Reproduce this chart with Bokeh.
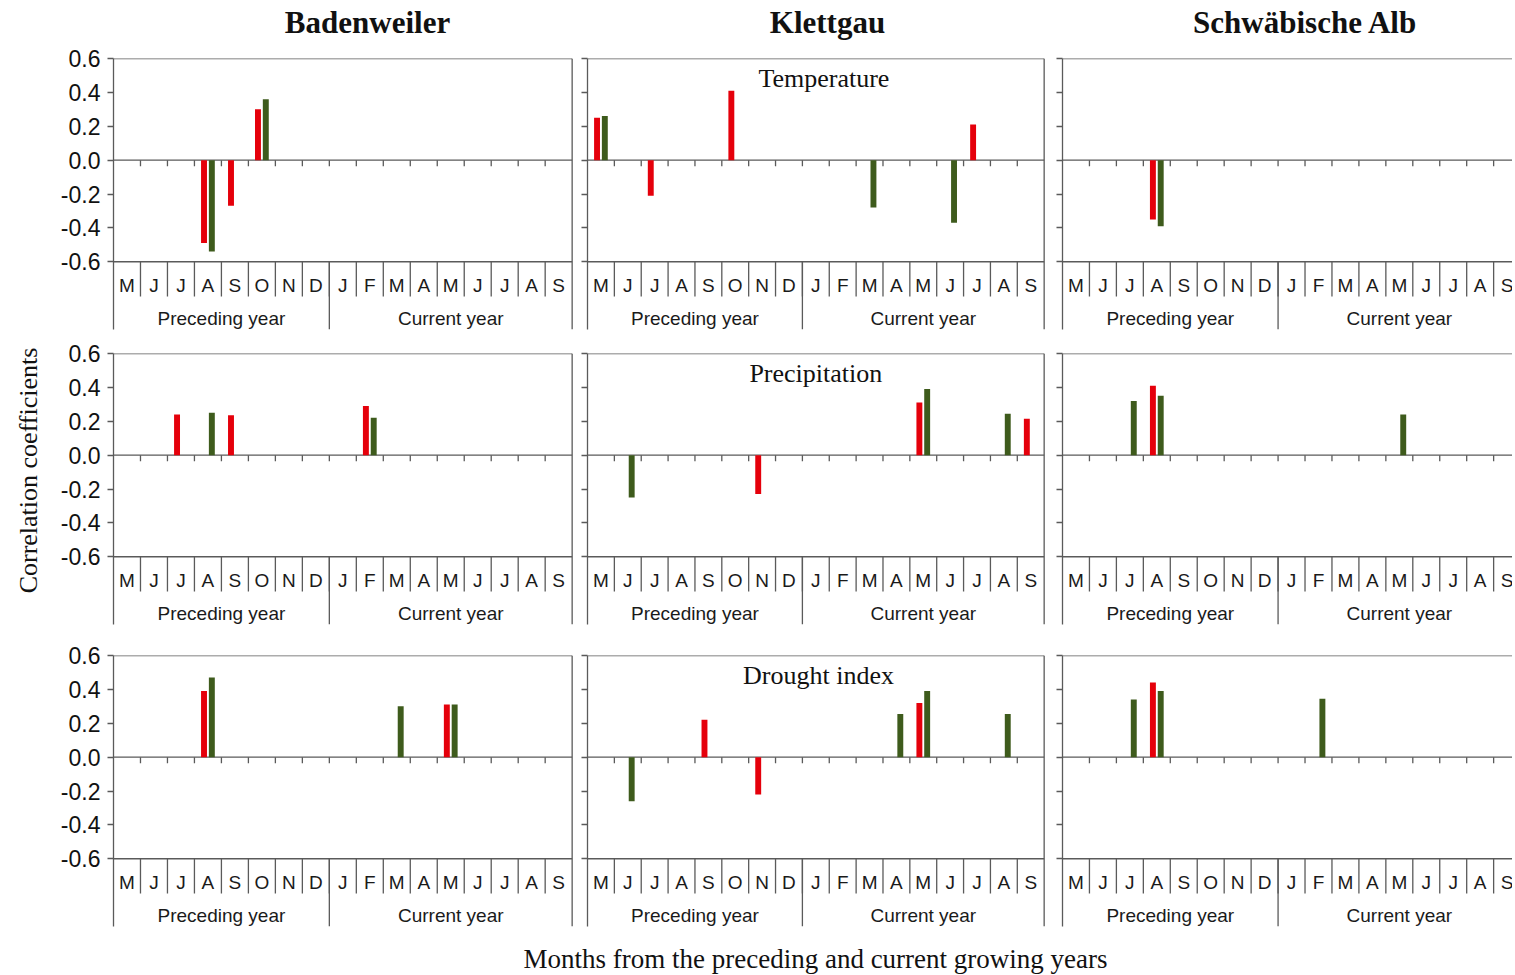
import numpy as np
from bokeh.plotting import figure
from bokeh.models import Range1d, FixedTicker, ColumnDataSource, NumeralTickFormatter, CustomJSTickFormatter
from bokeh.transform import dodge
from bokeh.layouts import gridplot, column, row
from bokeh.core.properties import value
from bokeh.embed import file_html
from bokeh.resources import INLINE

# ---------------- data ----------------
months = ["M", "J", "J", "A", "S", "O", "N", "D", "J", "F", "M", "A", "M", "J", "J", "A", "S"]
year_labels = ["Preceding year", "Current year"]
sites = ["Badenweiler", "Klettgau", "Schwäbische Alb"]
variables = ["Temperature", "Precipitation", "Drought index"]
y_title = "Correlation coefficients"
x_title = "Months from the preceding and current growing years"
N = None

# Temperature
temp_bad_red   = [N, N, N, -0.49, -0.27, 0.30, N, N, N, N, N, N, N, N, N, N, N]
temp_bad_green = [N, N, N, -0.54, N, 0.36, N, N, N, N, N, N, N, N, N, N, N]
temp_kle_red   = [0.25, N, -0.21, N, N, 0.41, N, N, N, N, N, N, N, N, 0.21, N, N]
temp_kle_green = [0.26, N, N, N, N, N, N, N, N, N, -0.28, N, N, -0.37, N, N, N]
temp_alb_red   = [N, N, N, -0.35, N, N, N, N, N, N, N, N, N, N, N, N, N]
temp_alb_green = [N, N, N, -0.39, N, N, N, N, N, N, N, N, N, N, N, N, N]

# Precipitation
prec_bad_red   = [N, N, 0.24, N, 0.235, N, N, N, N, 0.29, N, N, N, N, N, N, N]
prec_bad_green = [N, N, N, 0.25, N, N, N, N, N, 0.22, N, N, N, N, N, N, N]
prec_kle_red   = [N, N, N, N, N, N, -0.23, N, N, N, N, N, 0.31, N, N, N, 0.215]
prec_kle_green = [N, -0.25, N, N, N, N, N, N, N, N, N, N, 0.39, N, N, 0.245, N]
prec_alb_red   = [N, N, N, 0.41, N, N, N, N, N, N, N, N, N, N, N, N, N]
prec_alb_green = [N, N, 0.32, 0.35, N, N, N, N, N, N, N, N, 0.24, N, N, N, N]

# Drought index
drou_bad_red   = [N, N, N, 0.39, N, N, N, N, N, N, N, N, 0.31, N, N, N, N]
drou_bad_green = [N, N, N, 0.47, N, N, N, N, N, N, 0.30, N, 0.31, N, N, N, N]
drou_kle_red   = [N, N, N, N, 0.22, N, -0.22, N, N, N, N, N, 0.32, N, N, N, N]
drou_kle_green = [N, -0.26, N, N, N, N, N, N, N, N, N, 0.255, 0.39, N, N, 0.255, N]
drou_alb_red   = [N, N, N, 0.44, N, N, N, N, N, N, N, N, N, N, N, N, N]
drou_alb_green = [N, N, 0.34, 0.39, N, N, N, N, N, 0.345, N, N, N, N, N, N, N]

series = [
    [(temp_bad_red, temp_bad_green), (temp_kle_red, temp_kle_green), (temp_alb_red, temp_alb_green)],
    [(prec_bad_red, prec_bad_green), (prec_kle_red, prec_kle_green), (prec_alb_red, prec_alb_green)],
    [(drou_bad_red, drou_bad_green), (drou_kle_red, drou_kle_green), (drou_alb_red, drou_alb_green)],
]

# ---------------- style / layout ----------------
RED = "#E5000B"
GREEN = "#3E5B1C"
LINE = "#5a5a5a"
TXT = "#111111"
SANS = "Liberation Sans"
SERIF = "Liberation Serif"

TOTAL_W = 1512
HEADER_H = 46
YT_W = 45
XT_H = 42

col_frame_w = [460, 458, 450]
col_border_l = [68, 9, 13]
col_border_r = [5, 4, 0]
col_xend = [17.05, 17.05, 16.7]
row_border_t = [12, 12, 16]
row_border_b = [12, 15, 6]
FRAME_H = 271
title_x = [8.8, 8.5, 8.6]

yticks = [-0.6, -0.4, -0.2, 0.0, 0.2, 0.4, 0.6]
n = len(months)
xc = np.arange(n) + 0.5


def arr(lst):
    return np.array([np.nan if v is None else v for v in lst], dtype=float)


def text_canvas(w, h):
    f = figure(width=w, height=h, x_range=Range1d(0, w), y_range=Range1d(h, 0),
               x_axis_location=None, y_axis_location=None, toolbar_location=None,
               output_backend="svg", min_border=0)
    f.outline_line_color = None
    f.xgrid.visible = False
    f.ygrid.visible = False
    return f


grid = []
for r in range(3):
    prow = []
    for c in range(3):
        xend = col_xend[c]
        p = figure(frame_width=col_frame_w[c], frame_height=FRAME_H,
                   x_range=Range1d(0, xend), y_range=Range1d(-1.0, 0.6),
                   x_axis_location=None, y_axis_location="left",
                   toolbar_location=None, output_backend="svg",
                   min_border_left=col_border_l[c], min_border_right=col_border_r[c],
                   min_border_top=row_border_t[r], min_border_bottom=row_border_b[r])
        p.outline_line_color = None
        p.xgrid.visible = False
        p.ygrid.visible = False

        ax = p.yaxis[0]
        ax.ticker = FixedTicker(ticks=yticks, minor_ticks=[])
        ax.axis_line_color = LINE
        ax.axis_line_width = 1.3
        ax.major_tick_line_color = LINE
        ax.major_tick_line_width = 1.3
        ax.major_tick_out = 6
        ax.major_tick_in = 0
        ax.minor_tick_line_color = None
        if c == 0:
            ax.formatter = NumeralTickFormatter(format="0.0")
            ax.major_label_text_font = SANS
            ax.major_label_text_font_size = "23px"
            ax.major_label_text_color = TXT
            ax.major_label_standoff = 7
        else:
            ax.formatter = CustomJSTickFormatter(code="return ''")
            ax.major_label_standoff = 0

        xright = 17 if c < 2 else xend
        p.segment(x0=[0, 0, 0], y0=[0.6, 0.0, -0.6], x1=[xright] * 3, y1=[0.6, 0.0, -0.6],
                  line_color=LINE, line_width=1.3)
        bx = list(range(1, n))
        p.segment(x0=bx, y0=[0] * len(bx), x1=bx, y1=[-0.036] * len(bx),
                  line_color=LINE, line_width=1.3)
        p.segment(x0=bx, y0=[-0.6] * len(bx), x1=bx, y1=[-0.805] * len(bx),
                  line_color=LINE, line_width=1.3)
        p.segment(x0=[8], y0=[-0.6], x1=[8], y1=[-1.0], line_color=LINE, line_width=1.3)
        if c < 2:
            p.segment(x0=[17], y0=[0.6], x1=[17], y1=[-1.0], line_color=LINE, line_width=1.3)

        red, green = series[r][c]
        src = ColumnDataSource(dict(x=xc, red=arr(red), green=arr(green)))
        p.vbar(x=dodge("x", -0.145, range=None), top="red", bottom=0, width=0.22,
               source=src, fill_color=RED, line_color=None)
        p.vbar(x=dodge("x", 0.145, range=None), top="green", bottom=0, width=0.22,
               source=src, fill_color=GREEN, line_color=None)

        p.text(x=xc, y=[-0.742] * n, text=months, text_font=value(SANS), text_font_size="19px",
               text_align="center", text_baseline="middle", text_color="#1a1a1a")
        p.text(x=[4.0, 12.5], y=[-0.935, -0.935], text=year_labels, text_font=value(SANS),
               text_font_size="19px", text_align="center", text_baseline="middle",
               text_color="#1a1a1a")

        if c == 1:
            p.text(x=[title_x[r]], y=[0.48], text=[variables[r]], text_font=value(SERIF),
                   text_font_size="26px", text_align="center", text_baseline="middle",
                   text_color=TXT)
        prow.append(p)
    grid.append(prow)

gp = gridplot(grid, toolbar_location=None)
grid_h = sum(row_border_t) + sum(row_border_b) + 3 * FRAME_H

# column headers
header = text_canvas(TOTAL_W, HEADER_H)
header.text(x=[367, 827, 1305], y=[22, 22, 22], text=sites, text_font=value(SERIF),
            text_font_style="bold", text_font_size="31px", text_align="center",
            text_baseline="middle", text_color=TXT)

# y-axis title
ytf = text_canvas(YT_W, grid_h)
ytf.text(x=[28], y=[470 - HEADER_H], text=[y_title], angle=np.pi / 2, text_font=value(SERIF),
         text_font_size="26px", text_align="center", text_baseline="middle", text_color=TXT)

# x-axis title
xtf = text_canvas(TOTAL_W, XT_H)
xtf.text(x=[815], y=[26], text=[x_title], text_font=value(SERIF), text_font_size="27px",
         text_align="center", text_baseline="middle", text_color=TXT)

layout = column(header, row(ytf, gp, spacing=0), xtf, spacing=0)

open("out.html", "w").write(file_html(layout, INLINE))
